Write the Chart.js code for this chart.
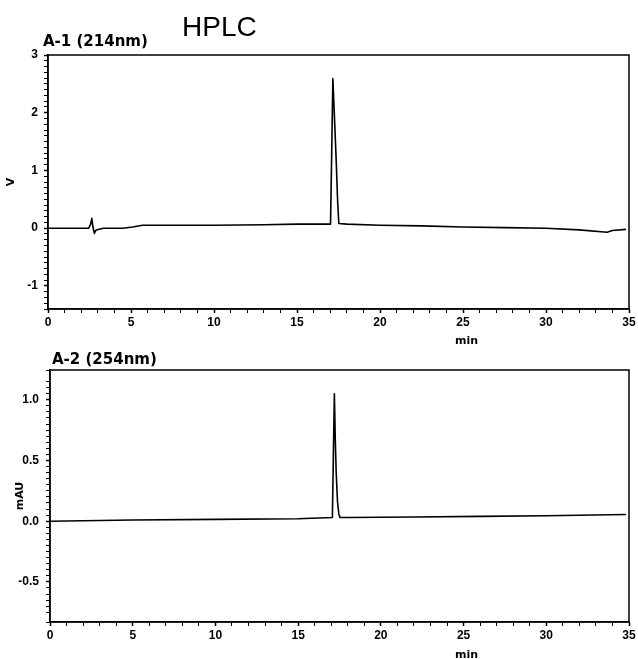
<!DOCTYPE html>
<html lang="en">
<head>
<meta charset="UTF-8">
<title>HPLC</title>
<script src="https://cdn.jsdelivr.net/npm/chart.js"></script>
<style>
    body {
        margin: 0;
        background: #fff;
        width: 638px;
        height: 659px;
        position: relative;
        overflow: hidden;
    }
    .panel {
        position: absolute;
        left: 0;
        width: 638px;
    }
    #panel1 { top: 0; height: 345px; }
    #panel2 { top: 345px; height: 314px; }
    .lbl {
        position: absolute;
        white-space: nowrap;
        line-height: 1;
        color: #000;
    }
    .head { font: 28px "Liberation Sans", Arial, sans-serif; }
    .trace { font: bold 15px "DejaVu Sans", sans-serif; }
    .unit { font: bold 11px "DejaVu Sans", sans-serif; }
</style>
</head>
<body>

<div class="panel" id="panel1"><canvas id="chart1"></canvas></div>
<div class="panel" id="panel2"><canvas id="chart2"></canvas></div>

<div class="lbl head" style="left:182px; top:11px;">HPLC</div>
<div class="lbl trace" style="left:43px; top:32px;">A-1 (214nm)</div>
<div class="lbl trace" style="left:52px; top:350px;">A-2 (254nm)</div>
<div class="lbl unit" style="left:455px; top:334px;">min</div>
<div class="lbl unit" style="left:455px; top:648px;">min</div>

<script>
    // A-1 (214nm), volts against retention time (min)
    const time1 = [0, 2.45, 2.56, 2.64, 2.71, 2.79, 2.9, 3.34, 4.5, 5.1, 5.7, 7, 10, 13, 15, 17.02,
                   17.09, 17.16, 17.26, 17.36, 17.45, 17.52, 18, 20, 22.5, 25, 27.5, 30, 32, 33.68, 34.0, 34.82];
    const volts1 = [0, 0, 0.06, 0.17, 0.02, -0.09, -0.03, 0, 0, 0.02, 0.05, 0.05, 0.05, 0.06, 0.07, 0.07,
                    1.3, 2.59, 1.9, 1.18, 0.45, 0.08, 0.07, 0.05, 0.04, 0.02, 0.01, 0, -0.03, -0.07, -0.04, -0.02];

    // A-2 (254nm), mAU against retention time (min)
    const time2 = [0, 5, 10, 15, 17.07, 17.13, 17.19, 17.24, 17.3, 17.38, 17.46, 17.53, 18, 22, 26, 30, 34.82];
    const mau2 = [0.0, 0.01, 0.015, 0.02, 0.03, 0.55, 1.05, 0.7, 0.4, 0.16, 0.06, 0.03, 0.03, 0.035, 0.04, 0.045, 0.055];

    const timeMax = 35;

    const tickFont = { family: "'Liberation Sans Narrow', 'Liberation Sans', Arial, sans-serif", weight: 'bold', size: 12 };

    function near(v, step) {
        return Math.abs(v / step - Math.round(v / step)) < 1e-6;
    }

    // closed frame round the plot area
    const framePlugin = {
        id: 'frame',
        afterDraw(chart) {
            const a = chart.chartArea;
            const ctx = chart.ctx;
            ctx.save();
            ctx.strokeStyle = '#000';
            ctx.lineWidth = 1.5;
            ctx.strokeRect(a.left, a.top, a.right - a.left, a.bottom - a.top);
            ctx.restore();
        }
    };

    function makeChart(id, xs, ys, cfg) {
        return new Chart(document.getElementById(id), {
            type: 'line',
            data: {
                datasets: [{
                    data: xs.map((x, i) => ({ x: x, y: ys[i] })),
                    borderColor: '#000',
                    borderWidth: 1.6,
                    borderJoinStyle: 'round',
                    pointRadius: 0,
                    tension: 0,
                    fill: false
                }]
            },
            options: {
                responsive: true,
                maintainAspectRatio: false,
                animation: false,
                layout: { padding: cfg.padding },
                plugins: { legend: { display: false }, tooltip: { enabled: false } },
                scales: {
                    x: {
                        type: 'linear',
                        min: 0,
                        max: timeMax,
                        afterFit: s => { s.height = cfg.xHeight; },
                        border: { color: '#000', width: 1.5 },
                        grid: { drawOnChartArea: false, tickLength: 4, tickColor: '#000',
                                tickWidth: c => near(c.tick.value, 5) ? 1.5 : 1 },
                        ticks: {
                            stepSize: 1, autoSkip: false, maxRotation: 0, padding: 2,
                            color: '#000', font: tickFont,
                            callback: v => near(v, 5) ? String(Math.round(v)) : ''
                        }
                    },
                    y: {
                        min: cfg.yMin,
                        max: cfg.yMax,
                        afterFit: s => { s.width = cfg.yWidth; },
                        border: { color: '#000', width: 1.5 },
                        grid: { drawOnChartArea: false, tickLength: 4, tickColor: '#000',
                                tickWidth: c => near(c.tick.value, cfg.yMajor) ? 1.5 : 1 },
                        ticks: {
                            stepSize: cfg.yStep, autoSkip: false, padding: cfg.yPad,
                            color: '#000', font: tickFont,
                            callback: v => near(v, cfg.yMajor) ? cfg.fmt(v) : ''
                        },
                        title: {
                            display: true, text: cfg.yTitle, color: '#000',
                            font: { family: "'DejaVu Sans', sans-serif", weight: 'bold', size: 11 },
                            padding: { top: cfg.titlePad, bottom: 0 }
                        }
                    }
                }
            },
            plugins: [framePlugin]
        });
    }

    makeChart('chart1', time1, volts1, {
        padding: { top: 55, right: 9, left: 0, bottom: 0 },
        xHeight: 36, yWidth: 48,
        yMin: -1.4, yMax: 3, yStep: 0.1, yMajor: 1, yPad: 6,
        fmt: v => String(Math.round(v)),
        yTitle: 'V', titlePad: 5
    });

    makeChart('chart2', time2, mau2, {
        padding: { top: 25, right: 9, left: 0, bottom: 0 },
        xHeight: 37, yWidth: 50,
        yMin: -0.83, yMax: 1.245, yStep: 0.05, yMajor: 0.5, yPad: 7,
        fmt: v => v.toFixed(1),
        yTitle: 'mAU', titlePad: 14
    });
</script>
</body>
</html>
